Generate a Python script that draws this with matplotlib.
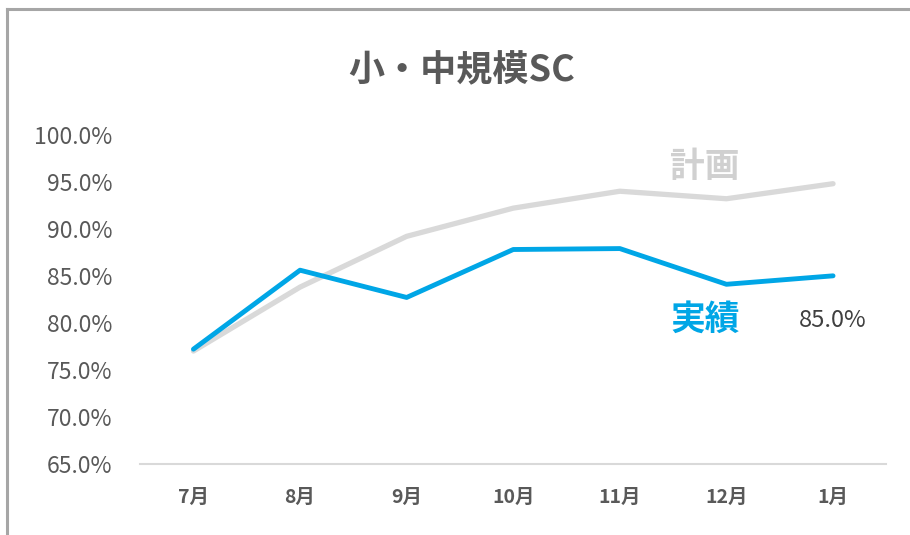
import matplotlib
matplotlib.use("Agg")
import matplotlib.pyplot as plt
from matplotlib.lines import Line2D

plt.rcParams['font.family'] = ['Noto Sans CJK JP', 'DejaVu Sans']

months = ['7月', '8月', '9月', '10月', '11月', '12月', '1月']
plan = [77.0, 83.8, 89.2, 92.2, 94.0, 93.2, 94.8]
actual = [77.2, 85.6, 82.7, 87.8, 87.9, 84.1, 85.0]
yticks = [65, 70, 75, 80, 85, 90, 95, 100]
title = '小・中規模SC'

fig = plt.figure(figsize=(9.1, 5.35), dpi=100)
ax = fig.add_axes([0.154, 0.133, 0.820, 0.615])

x = list(range(len(months)))
ax.plot(x, plan, color='#d9d9d9', lw=3.8, solid_capstyle='round', solid_joinstyle='round', zorder=2)
ax.plot(x, actual, color='#00a6e6', lw=3.5, solid_capstyle='round', solid_joinstyle='round', zorder=3)

ax.set_xlim(-0.5, len(months) - 0.5)
ax.set_ylim(65, 100)
ax.set_yticks(yticks)
ax.set_yticklabels([f'{v:.1f}%' for v in yticks], fontsize=16.5, color='#595959')
ax.set_xticks(x)
ax.set_xticklabels(months, fontsize=14, color='#595959', fontweight='bold')
ax.tick_params(axis='both', length=0)
ax.tick_params(axis='y', pad=20)
ax.tick_params(axis='x', pad=17)

for s in ['top', 'right', 'left']:
    ax.spines[s].set_visible(False)
ax.spines['bottom'].set_color('#d9d9d9')
ax.spines['bottom'].set_linewidth(1.5)

ax.text(4.8, plan[4] + 2.6, '計画', fontsize=25, fontweight='bold', color='#d0d0d0',
        ha='center', va='center')
ax.text(4.8, 80.4, '実績', fontsize=25, fontweight='bold', color='#00a6e6',
        ha='center', va='center')
ax.text(6.0, 80.3, f'{actual[-1]:.1f}%', fontsize=17, color='#404040',
        ha='center', va='center')

fig.text(0.507, 0.868, title, fontsize=26, fontweight='bold', color='#595959',
         ha='center', va='center')

# chart border (top and left)
fig.add_artist(Line2D([0.0075, 0.0075], [0.0, 0.983], transform=fig.transFigure,
                      color='#a6a6a6', lw=2.2))
fig.add_artist(Line2D([0.0075, 1.0], [0.983, 0.983], transform=fig.transFigure,
                      color='#a6a6a6', lw=2.2))

fig.savefig('out.png', dpi=100)
